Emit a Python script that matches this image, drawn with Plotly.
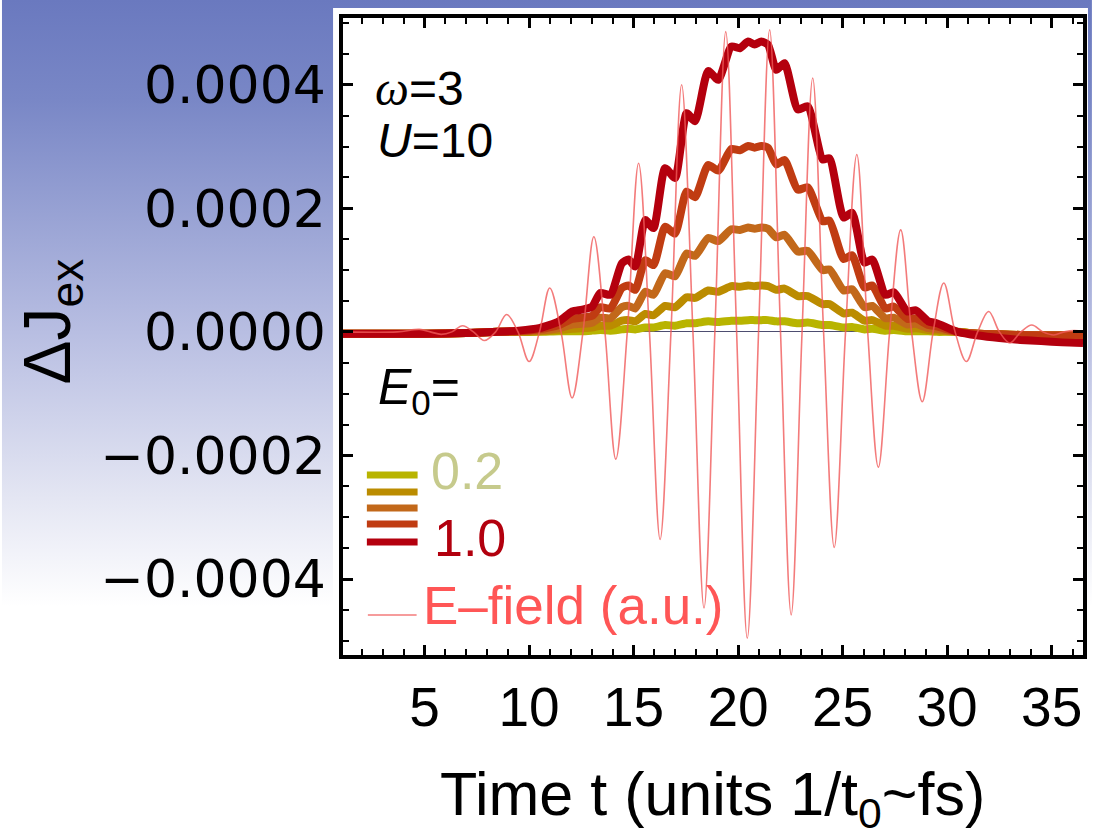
import base64
import plotly.graph_objects as go

# ---------------- data (Delta J in units of 1e-4) ----------------
t_j = [1.1, 3.0, 5.0, 7.0, 8.5, 9.5, 10.48, 11.43, 12.06, 12.54, 13.02, 13.41, 13.89,
       14.44, 14.76, 15.08, 15.56, 15.95, 16.51, 16.98, 17.54, 17.94, 18.57, 19.05,
       19.68, 20.08, 20.48, 20.79, 21.11, 21.43, 21.83, 22.22, 22.86, 23.33, 24.05,
       24.37, 25.05, 25.45, 26.05, 26.42, 27.05, 27.45, 28.10, 28.50, 29.10, 29.50,
       30.50, 31.5, 32.5, 33.5, 34.5, 35.5, 36.5]

dj_e0_02 = [-0.03, -0.03, -0.03, -0.02, 0, 0, 0, 0.01, 0.01, 0.01, 0.02, 0.03, 0.02,
            0.04, 0.05, 0.04, 0.07, 0.07, 0.11, 0.10, 0.14, 0.14, 0.17, 0.16, 0.18, 0.18,
            0.19, 0.19, 0.19, 0.19, 0.17, 0.17, 0.14, 0.15, 0.11, 0.11, 0.07, 0.08, 0.04,
            0.05, 0.02, 0.03, 0.01, 0.01, 0.01, 0.0, 0.0,
            -0.03, -0.04, -0.05, -0.05, -0.05, -0.05]
dj_e0_04 = [-0.03, -0.03, -0.03, -0.02, 0.0, 0.0, 0.01, 0.03, 0.05, 0.06, 0.07, 0.10, 0.10,
            0.18, 0.19, 0.17, 0.29, 0.27, 0.42, 0.40, 0.56, 0.55, 0.67, 0.65, 0.74, 0.73,
            0.75, 0.74, 0.75, 0.74, 0.68, 0.70, 0.58, 0.58, 0.45, 0.45, 0.30, 0.31, 0.18,
            0.19, 0.10, 0.10, 0.05, 0.06, 0.03, 0.02, 0.0,
            -0.03, -0.04, -0.05, -0.05, -0.05, -0.05]
dj_e0_06 = [-0.03, -0.03, -0.03, -0.02, 0.0, 0.01, 0.02, 0.06, 0.12, 0.13, 0.15, 0.23, 0.22,
            0.40, 0.42, 0.38, 0.65, 0.60, 0.95, 0.90, 1.27, 1.23, 1.52, 1.47, 1.66, 1.65,
            1.69, 1.67, 1.69, 1.67, 1.53, 1.57, 1.30, 1.31, 1.00, 1.01, 0.67, 0.69, 0.40,
            0.42, 0.22, 0.23, 0.12, 0.13, 0.06, 0.05, 0.0,
            -0.03, -0.04, -0.05, -0.05, -0.05, -0.05]
dj_e0_08 = [-0.03, -0.03, -0.03, -0.02, 0.0, 0.01, 0.04, 0.11, 0.21, 0.23, 0.26, 0.40, 0.38,
            0.71, 0.75, 0.68, 1.16, 1.08, 1.70, 1.59, 2.27, 2.18, 2.70, 2.61, 2.96, 2.94,
            3.01, 2.98, 3.01, 2.98, 2.71, 2.78, 2.30, 2.34, 1.79, 1.80, 1.18, 1.24, 0.72,
            0.75, 0.38, 0.41, 0.21, 0.22, 0.11, 0.09, 0.0,
            -0.03, -0.04, -0.05, -0.06, -0.06, -0.06]
dj_e0_10 = [-0.03, -0.03, -0.03, -0.02, 0.0, 0.02, 0.06, 0.17, 0.33, 0.36, 0.41, 0.63, 0.60,
            1.11, 1.17, 1.06, 1.81, 1.68, 2.65, 2.49, 3.54, 3.41, 4.22, 4.08, 4.62, 4.59,
            4.70, 4.65, 4.70, 4.65, 4.24, 4.35, 3.60, 3.65, 2.79, 2.81, 1.85, 1.93, 1.12,
            1.17, 0.60, 0.64, 0.33, 0.35, 0.17, 0.14, 0.0,
            -0.06, -0.10, -0.13, -0.15, -0.17, -0.18]

series_labels = ["0.2", "0.4", "0.6", "0.8", "1.0"]
series_values = [dj_e0_02, dj_e0_04, dj_e0_06, dj_e0_08, dj_e0_10]
series_colors = ["#b8b400", "#bb8c00", "#c2681a", "#c03c12", "#b4000e"]
for s in series_values:
    assert len(s) == len(t_j), len(s)

# E-field (arbitrary units, drawn on the same scale, units of 1e-4)
t_e = [1.1, 3.7, 4.76, 5.28, 5.80, 6.31, 6.82, 7.34, 7.86, 8.40, 8.93, 9.47, 10.00, 10.50,
       10.99, 11.53, 12.06, 12.58, 13.10, 13.63, 14.15, 14.70, 15.24, 15.76, 16.27, 16.79,
       17.30, 17.84, 18.37, 18.89, 19.41, 19.93, 20.44, 20.98, 21.51, 22.03, 22.54, 23.06,
       23.57, 24.09, 24.60, 25.14, 25.68, 26.20, 26.71, 27.25, 27.78, 28.30, 28.81, 29.33,
       29.84, 30.38, 30.92, 31.46, 31.99, 32.50, 33.00, 33.53, 34.05, 34.58, 35.10, 35.60,
       36.10, 36.5]
e_field = [0, 0, 0.04, 0, -0.04, 0, 0.10, 0, -0.14, 0, 0.28, 0, -0.48, 0,
           0.71, 0, -1.07, 0, 1.54, 0, -2.06, 0, 2.73, 0, -3.36, 0,
           4.00, 0, -4.47, 0, 4.86, 0, -4.96, 0, 4.89, 0, -4.58, 0,
           4.11, 0, -3.49, 0, 2.87, 0, -2.19, 0, 1.65, 0, -1.13, 0,
           0.79, 0, -0.48, 0, 0.33, 0, -0.18, 0, 0.11, 0, -0.05, 0,
           0.02, 0]

y_tick_vals = [-0.0004, -0.0002, 0.0, 0.0002, 0.0004]
x_tick_vals = [5, 10, 15, 20, 25, 30, 35]
SCALE = 1e-4

# ---------------- geometry ----------------
W, H = 1096, 831
L, R, T, B = 343, 9, 18, 176
PW, PH = W - L - R, H - T - B


def pxx(px):
    return (px - L) / PW


def pxy(py):
    return (H - B - py) / PH


EF_COLOR = "rgba(240,90,90,0.8)"

fig = go.Figure()

for lab, vals, col in zip(series_labels, series_values, series_colors):
    fig.add_trace(go.Scatter(
        x=t_j, y=[v * SCALE for v in vals], mode="lines", name="E0=" + lab,
        line=dict(color=col, width=8, shape="spline", smoothing=0.6),
        showlegend=False, hoverinfo="skip"))

fig.add_trace(go.Scatter(
    x=t_e, y=[v * SCALE for v in e_field], mode="lines", name="E-field",
    line=dict(color=EF_COLOR, width=1.6, shape="spline", smoothing=1.0),
    showlegend=False, hoverinfo="skip"))

# background gradient
svg = (f'<svg xmlns="http://www.w3.org/2000/svg" width="{W}" height="{H}" '
       f'preserveAspectRatio="none">'
       '<defs><linearGradient id="g" x1="0" y1="0" x2="0" y2="1">'
       '<stop offset="0" stop-color="#6a79bf"/>'
       '<stop offset="0.12" stop-color="#7987c6"/>'
       '<stop offset="0.40" stop-color="#b8bee2"/>'
       '<stop offset="0.60" stop-color="#e4e6f3"/>'
       '<stop offset="0.73" stop-color="#ffffff"/>'
       '<stop offset="1" stop-color="#ffffff"/>'
       '</linearGradient></defs>'
       f'<rect x="0" y="0" width="{W}" height="{H}" fill="url(#g)"/></svg>')
uri = "data:image/svg+xml;base64," + base64.b64encode(svg.encode()).decode()
fig.add_layout_image(dict(source=uri, xref="paper", yref="paper", x=pxx(0), y=pxy(0),
                          sizex=W / PW, sizey=H / PH, xanchor="left", yanchor="top",
                          sizing="stretch", layer="below"))

shapes = [dict(type="rect", xref="paper", yref="paper", x0=pxx(333), x1=pxx(1092),
               y0=pxy(662), y1=pxy(8), fillcolor="white", line=dict(width=0), layer="below")]
# legend swatches
for yy, col in zip([475, 492, 508, 524, 542], series_colors):
    shapes.append(dict(type="line", xref="paper", yref="paper", x0=pxx(367), x1=pxx(418),
                       y0=pxy(yy), y1=pxy(yy), line=dict(color=col, width=7)))
shapes.append(dict(type="line", xref="paper", yref="paper", x0=pxx(368), x1=pxx(417),
                   y0=pxy(615), y1=pxy(615), line=dict(color=EF_COLOR, width=1.6)))

FONT = "Liberation Sans, Arial, sans-serif"


def ann(text, x, y, size, color="black", xanchor="left", angle=0):
    return dict(text=text, x=pxx(x), y=pxy(y), xref="paper", yref="paper", showarrow=False,
                xanchor=xanchor, yanchor="middle", textangle=angle,
                font=dict(family=FONT, size=size, color=color))


annotations = [
    ann('<span style="font-family:Liberation Serif"><i>ω</i></span>=3', 373, 88, 48),
    ann('<i>U</i>=10', 375, 140, 48),
    ann('<i>E</i><sub>0</sub>=', 376, 390, 50),
    ann('0.2', 429, 471, 52, "#c6ca8c"),
    ann('1.0', 432, 538, 52, "#b2000e"),
    ann('E–field (a.u.)', 421, 605, 53, "#ff5656"),
    ann('Time t (units 1/t<sub>0</sub>~fs)', 714, 798, 61, xanchor="center"),
    ann('ΔJ<sub>ex</sub>', 50, 322, 66, xanchor="center", angle=-90),
]

axis_common = dict(ticks="inside", ticklen=10, tickwidth=2.5, tickcolor="black",
                   showline=True, linewidth=3.5, linecolor="black", mirror="ticks",
                   showgrid=False)

fig.update_layout(
    width=W, height=H,
    margin=dict(l=L, r=R, t=T, b=B),
    paper_bgcolor="white", plot_bgcolor="white",
    shapes=shapes, annotations=annotations,
    xaxis=dict(range=[1.1, 36.5], tickvals=x_tick_vals, zeroline=False,
               tickfont=dict(family=FONT, size=55, color="black"), ticklabelstandoff=1,
               minor=dict(ticks="inside", ticklen=6, tickwidth=2, dtick=1, tick0=0,
                          tickcolor="black", showgrid=False),
               **axis_common),
    yaxis=dict(range=[-0.000523, 0.000508], tickvals=y_tick_vals, tickformat=".4f",
               zeroline=True, zerolinecolor="#4d4d70", zerolinewidth=1,
               tickfont=dict(family="DejaVu Sans, sans-serif", size=52, color="black"),
               ticklabelstandoff=3,
               minor=dict(ticks="inside", ticklen=6, tickwidth=2, dtick=0.00005, tick0=0,
                          tickcolor="black", showgrid=False),
               **axis_common),
)

fig.write_html("out.html")
